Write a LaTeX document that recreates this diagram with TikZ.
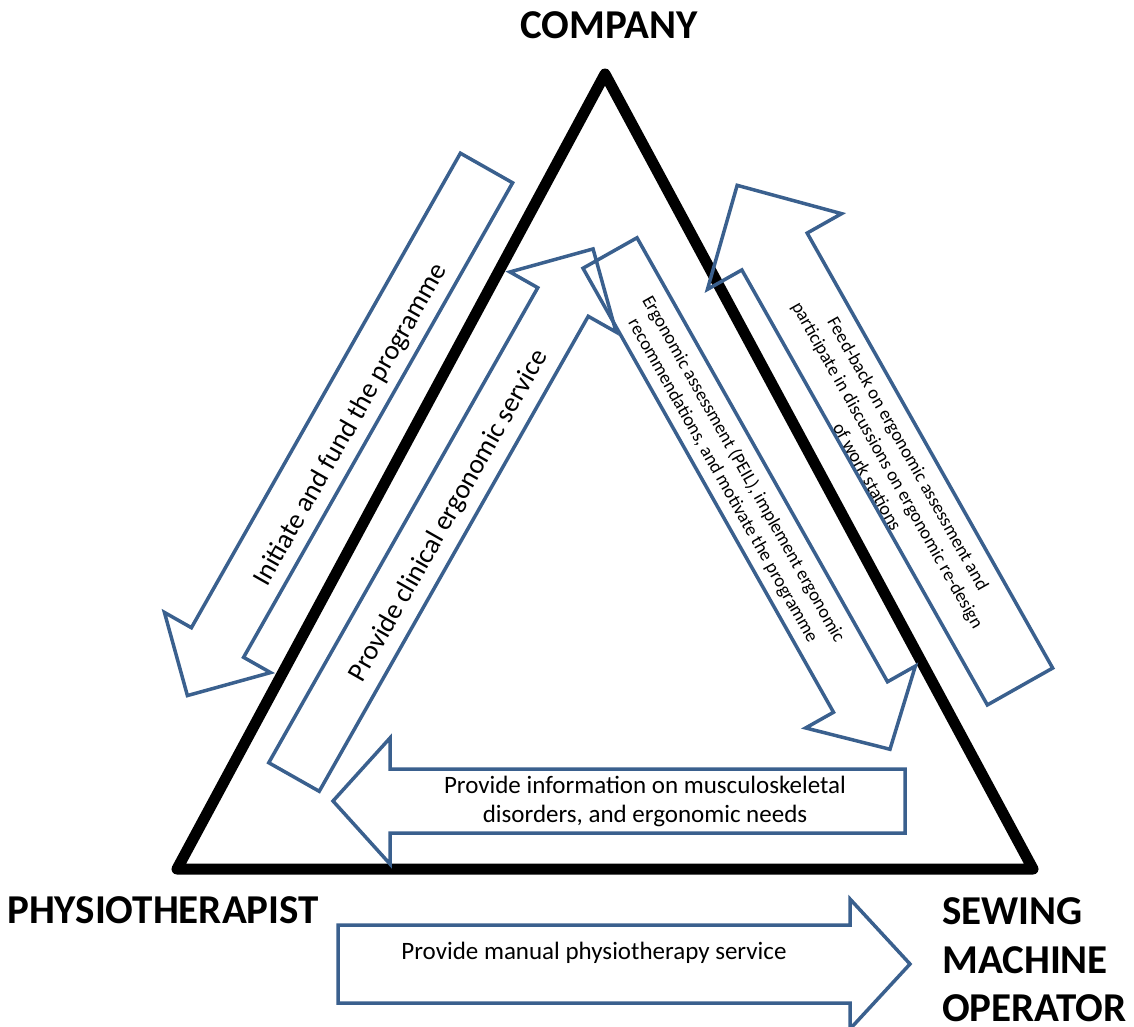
\documentclass[tikz,border=0pt]{standalone}
\usepackage{fontspec}
\setmainfont{Carlito}
\usetikzlibrary{calc}
\definecolor{arrowblue}{RGB}{58,96,142}
\tikzset{
  blockarrow/.style={draw=arrowblue, line width=3.5pt, line join=miter},
  tri/.style={draw=black, line width=11pt, line join=round},
  party/.style={font=\fontsize{41}{49}\selectfont\bfseries, inner sep=0pt},
  biglabel/.style={font=\fontsize{27.5}{33}\selectfont, inner sep=0pt},
  midlabel/.style={font=\fontsize{25}{29}\selectfont, align=center, inner sep=0pt},
  smalllabel/.style={font=\fontsize{18.6}{23.5}\selectfont, align=center, inner sep=0pt},
}
% #1 name, #2 tail mid, #3 head-base mid, #4 body half width, #5 head half width, #6 head length
\newcommand{\blockarr}[6]{%
  \coordinate (#1T) at #2;
  \coordinate (#1B) at #3;
  \draw[blockarrow] ($(#1T)!#4!90:(#1B)$) -- ($(#1B)!#4!-90:(#1T)$)
    -- ($(#1B)!#5!-90:(#1T)$) -- ($(#1B)!-#6!(#1T)$) -- ($(#1B)!#5!90:(#1T)$)
    -- ($(#1B)!#4!90:(#1T)$) -- ($(#1T)!#4!-90:(#1B)$) -- cycle;
}
\begin{document}
\begin{tikzpicture}[x=1pt,y=-1pt]
\useasboundingbox (0,0) rectangle (1134,1026);
% triangle
\coordinate (top) at (605,74);
\coordinate (bl) at (177,869);
\coordinate (br) at (1033,869);
\draw[tri] (top) -- (bl) -- (br) -- cycle;
% party labels
\node[party] (company) at (609,25) {COMPANY};
\node[party, anchor=west] (physio) at (7,910) {PHYSIOTHERAPIST};
\node[party, anchor=west] (sewing) at (942,911) {SEWING};
\node[party, anchor=west] (machine) at (942,960) {MACHINE};
\node[party, anchor=west] (operator) at (942,1008) {OPERATOR};
% block arrows
\blockarr{a1}{(486.5,168)}{(217.5,642.5)}{30pt}{61pt}{61pt}
\blockarr{a2}{(294,777)}{(563,302)}{29pt}{61pt}{61pt}
\blockarr{a3}{(610,253)}{(860.5,697)}{31pt}{63pt}{60pt}
\blockarr{a4}{(1020,686.5)}{(774.5,251.5)}{37.5pt}{77pt}{76pt}
\blockarr{a5}{(905,801)}{(390,801)}{32pt}{63pt}{57pt}
\blockarr{a6}{(338,964)}{(850,964)}{39pt}{65pt}{60pt}
% arrow texts
\node[biglabel, rotate=60.45] (t1) at (351,425) {Initiate and fund the programme};
\node[biglabel, rotate=60.45] (t2) at (449,516) {Provide clinical ergonomic service};
\node[smalllabel, rotate=-60.6] (t3) at (733,475) {Ergonomic assessment (PEIL), implement ergonomic\\recommendations, and motivate the programme};
\node[smalllabel, rotate=-60.6] (t4) at (888,465) {Feed-back on ergonomic assessment and\\participate in discussions on ergonomic re-design\\of work stations};
\node[midlabel] (t5) at (645,801) {Provide information on musculoskeletal\\disorders, and ergonomic needs};
\node[midlabel] (t6) at (594,953) {Provide manual physiotherapy service};
\end{tikzpicture}
\end{document}
